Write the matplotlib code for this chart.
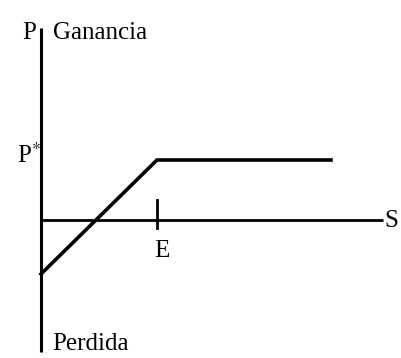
import matplotlib.pyplot as plt

# payoff profile in units of E (x) and P* (y)
spot = [0.0, 1.0, 2.5]
payoff = [-0.9, 1.0, 1.0]
strike = 1.0
prima = 1.0

plt.rcParams['font.family'] = ['Liberation Serif', 'DejaVu Serif']
plt.rcParams['mathtext.fontset'] = 'stix'

fig = plt.figure(figsize=(4.02, 3.58), dpi=100)
ax = fig.add_axes([0, 0, 1, 1])
ax.set_xlim(-41 / 116, 361 / 116)
ax.set_ylim(-138 / 60, 220 / 60)
ax.axis('off')

# axes
ax.plot([0, 0], [-2.2, 3.2], color='black', lw=2.2, solid_capstyle='butt')
ax.plot([0, 2.95], [0, 0], color='black', lw=2.0, solid_capstyle='butt')

# payoff
ax.plot(spot, payoff, color='black', lw=2.6, solid_joinstyle='miter')

# strike tick
ax.plot([strike, strike], [-0.13, 0.33], color='black', lw=2.0)

fs = 18
ax.text(-0.04, 3.12, 'P', fontsize=fs, ha='right', va='center')
ax.text(0.1, 3.12, 'Ganancia', fontsize=fs, ha='left', va='center')
ax.text(0.1, -2.07, 'Perdida', fontsize=fs, ha='left', va='center')
ax.text(0.0, prima + 0.08, 'P$^{*}$', fontsize=fs, ha='right', va='center')
ax.text(strike - 0.02, -0.52, 'E', fontsize=fs, ha='left', va='center')
ax.text(2.96, -0.02, 'S', fontsize=fs, ha='left', va='center')

fig.savefig('out.png', dpi=100)
